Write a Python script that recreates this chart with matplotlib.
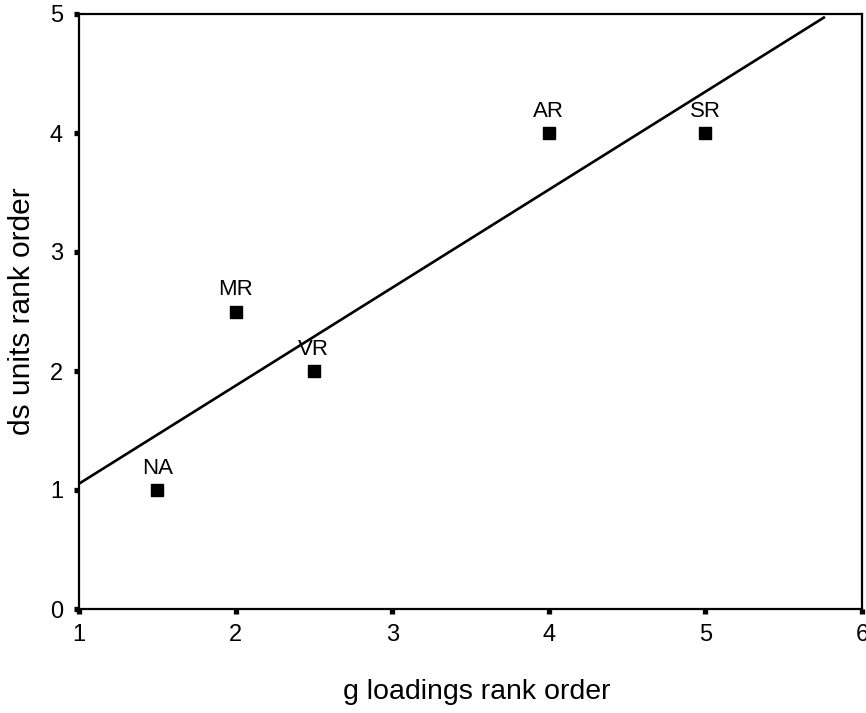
import numpy as np
import matplotlib
matplotlib.use("Agg")
import matplotlib.pyplot as plt

plt.rcParams['font.family'] = ['Liberation Sans', 'DejaVu Sans']

labels = ["NA", "MR", "VR", "AR", "SR"]
g_rank = [1.5, 2.0, 2.5, 4.0, 5.0]
ds_rank = [1.0, 2.5, 2.0, 4.0, 4.0]

fig = plt.figure(figsize=(8.66, 7.13), dpi=100)
ax = fig.add_axes([79/866, 1 - 609/713, (862-79)/866, (609-14)/713])

ax.scatter(g_rank, ds_rank, marker='s', s=80, color='black', zorder=3)
for lab, x, y in zip(labels, g_rank, ds_rank):
    ax.annotate(lab, (x, y), xytext=(0, 8), textcoords='offset points',
                ha='center', va='bottom', fontsize=16)

m, b = np.polyfit(g_rank, ds_rank, 1)
x_end = (4.97 - b) / m
xs = np.array([1.0, x_end])
ax.plot(xs, m * xs + b, color='black', lw=1.9, zorder=2)

ax.set_xlim(1, 6)
ax.set_ylim(0, 5)
ax.set_xticks([1, 2, 3, 4, 5, 6])
ax.set_yticks([0, 1, 2, 3, 4, 5])
ax.tick_params(axis='both', direction='out', length=3.5, width=3.8, labelsize=17)
ax.tick_params(axis='x', pad=7)
ax.tick_params(axis='y', pad=8)
for sp in ax.spines.values():
    sp.set_linewidth(1.6)

fig.text(477/866, 1 - 692/713, "g loadings rank order", fontsize=20.5,
         ha='center', va='center')
fig.text(22/866, 1 - 311/713, "ds units rank order", fontsize=21.5,
         ha='center', va='center', rotation=90)

fig.savefig("out.png", dpi=100)
